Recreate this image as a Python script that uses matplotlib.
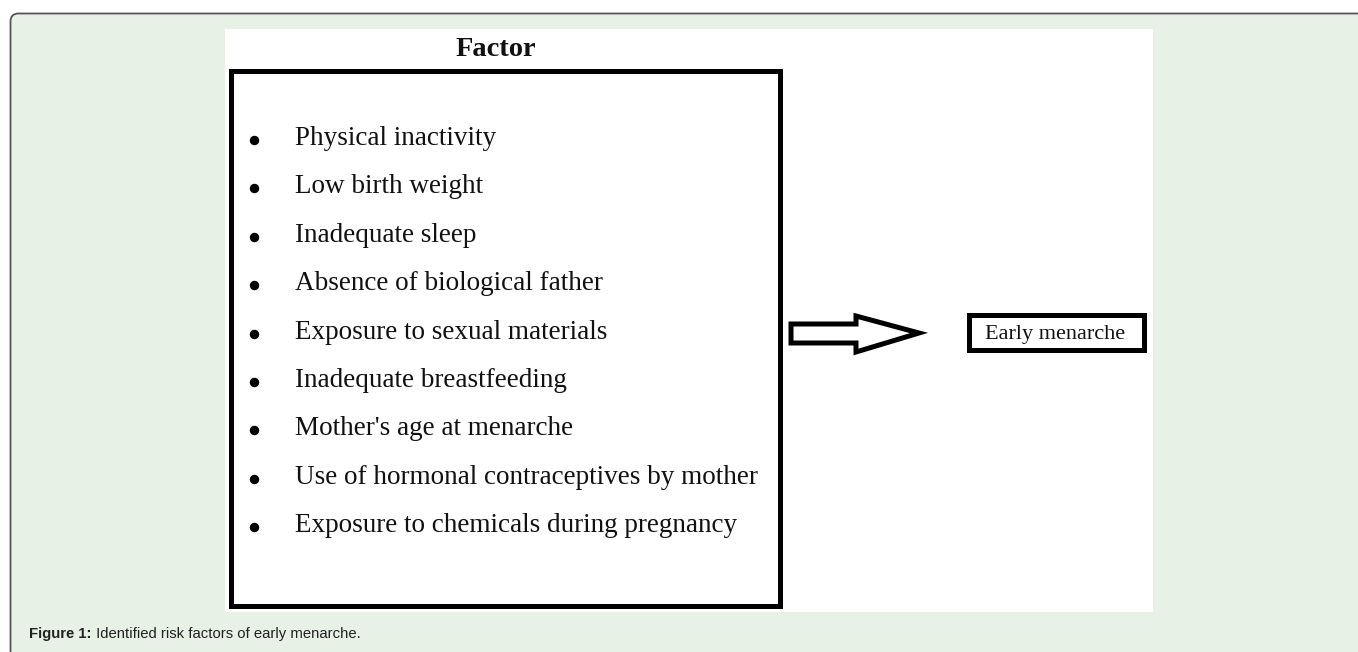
import matplotlib
matplotlib.use("Agg")
import matplotlib.pyplot as plt
from matplotlib.patches import FancyBboxPatch, Rectangle, Polygon

# ---- content ----
title = "Factor"
factors = [
    "Physical inactivity",
    "Low birth weight",
    "Inadequate sleep",
    "Absence of biological father",
    "Exposure to sexual materials",
    "Inadequate breastfeeding",
    "Mother's age at menarche",
    "Use of hormonal contraceptives by mother",
    "Exposure to chemicals during pregnancy",
]
outcome = "Early menarche"
caption_bold = "Figure 1:"
caption_text = " Identified risk factors of early menarche."

W, H = 1358, 652
fig = plt.figure(figsize=(W / 100, H / 100), dpi=100)
fig.patch.set_facecolor("white")
ax = fig.add_axes([0, 0, 1, 1])
ax.set_xlim(0, W)
ax.set_ylim(H, 0)
ax.axis("off")

# outer panel with rounded corner
panel = FancyBboxPatch((10.5, 13.5), W + 40, H + 40,
                       boxstyle="round,pad=0,rounding_size=8",
                       facecolor="#e7f1e6", edgecolor="#555555", linewidth=1.3)
ax.add_patch(panel)

# white image area
ax.add_patch(Rectangle((225, 29), 928, 583, facecolor="white", edgecolor="none"))

serif = ["Liberation Serif", "DejaVu Serif"]

# title
ax.text(496, 56, title, fontsize=20.5, fontweight="bold", family=serif,
        ha="center", va="baseline", color="#111111")

# factor box
ax.add_patch(Rectangle((231, 70.5), 549, 535, facecolor="none",
                       edgecolor="black", linewidth=3.6))

base0, dy = 145, 48.4
for i, f in enumerate(factors):
    yb = base0 + i * dy
    ax.plot(254, yb - 5, marker="o", markersize=5.8, color="black")
    ax.text(295, yb, f, fontsize=19.5, family=serif, ha="left",
            va="baseline", color="#111111")

# arrow
arrow = Polygon([(791, 324), (856, 324), (856, 316), (919, 333),
                 (856, 352), (856, 343), (791, 343)],
                closed=True, facecolor="white", edgecolor="black",
                linewidth=3.6, joinstyle="miter")
ax.add_patch(arrow)

# outcome box
ax.add_patch(Rectangle((969, 315), 175, 35, facecolor="white",
                       edgecolor="black", linewidth=3.6))
ax.text(1055, 339, outcome, fontsize=16, family=serif, ha="center",
        va="baseline", color="#111111")

# caption
sans = ["Liberation Sans", "DejaVu Sans"]
t = ax.text(29, 634, caption_bold, fontsize=10.7, fontweight="bold",
            family=sans, ha="left", va="center", color="#222222")
fig.canvas.draw()
bb = t.get_window_extent()
x_end = bb.x1
ax.annotate(caption_text, xy=(x_end, H - 634), xycoords="figure pixels",
            fontsize=10.7, family=sans, ha="left", va="center", color="#222222")

fig.savefig("out.png", dpi=100)
